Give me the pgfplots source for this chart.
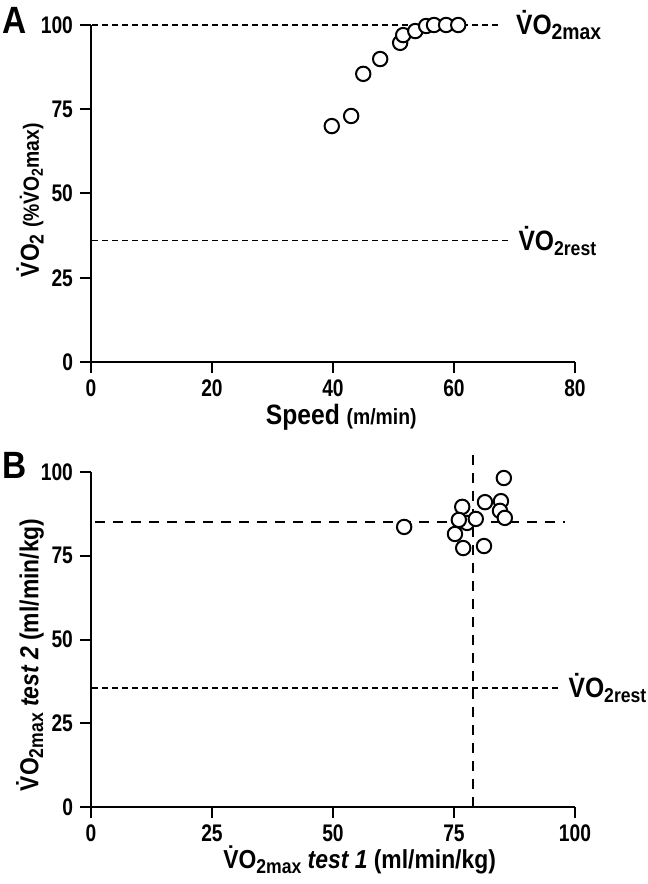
\documentclass[border=0pt]{standalone}
\usepackage{fontspec}
\setmainfont{Liberation Sans}[FakeStretch=0.88]
\newfontfamily\tickfont{Liberation Sans}[FakeStretch=0.8]
\usepackage{pgfplots}
\pgfplotsset{compat=1.18}
\usetikzlibrary{calc}
\newcommand{\VO}{\.{V}O}
\newcommand{\sub}[2][10]{\raisebox{-0.35ex}{\fontsize{#1}{#1}\selectfont #2}}
\begin{document}
\begin{tikzpicture}[font=\bfseries]
\useasboundingbox (-45.5pt,-38.5pt) rectangle (278.5pt,403.5pt);
\pgfplotsset{
  myaxis/.style={
    scale only axis, width=242pt,
    axis lines=left, axis line style={line width=1pt, -},
    tick align=outside, major tick length=5.5pt,
    tick style={line width=1pt, black},
    xmin=0, ymin=0, ymax=100,
    ytick={0,25,50,75,100},
    tick label style={font=\tickfont\fontsize{12}{14}\selectfont\bfseries},
    /pgf/number format/assume math mode=true,
    clip=false,
  },
  pts/.style={only marks, mark=*, mark size=3.6pt, mark options={line width=1pt, fill=white, draw=black}},
  dline/.style={black, line width=0.6pt, dash pattern=on 3pt off 2pt, no marks},
  dthick/.style={black, line width=1pt, dash pattern=on 5pt off 4pt, no marks},
}
% Panel A
\begin{axis}[myaxis, at={(0pt,222.5pt)}, height=168.5pt, xmax=80, xtick={0,20,40,60,80}]
\addplot[dline] coordinates {(0.2,100) (67.6,100)};
\addplot[dline] coordinates {(0.2,36) (68.9,36)};
\addplot[pts] coordinates {
(39.8,70.0) (43.0,73.0) (45.0,85.5) (47.8,89.9) (51.1,94.7) (51.6,97.0)
(53.6,98.2) (55.4,99.7) (56.7,100) (58.7,100) (60.7,100)};
\node[anchor=west, inner sep=0pt] at (axis cs:70.2,100) {\fontsize{14}{16}\selectfont\VO\sub[11]{2max}};
\node[anchor=west, inner sep=0pt] at (axis cs:70.6,36) {\fontsize{14}{16}\selectfont\VO\sub[10]{2rest}};
\node at ($(rel axis cs:0.517,0)+(0,-27.5pt)$) {\fontsize{14}{16}\selectfont Speed \fontsize{11}{13}\selectfont(m/min)};
\node[rotate=90] at ($(rel axis cs:0,0.48)+(-30.5pt,0)$) {\fontsize{13}{15}\selectfont\VO\sub[10]{2} \fontsize{11}{13}\selectfont(\%\VO\sub[8]{2}max)};
\node at ($(rel axis cs:0,1.015)+(-38pt,0)$) {\fontsize{19}{20}\selectfont A};
\end{axis}
% Panel B
\begin{axis}[myaxis, at={(0pt,0pt)}, height=167.5pt, xmax=100, xtick={0,25,50,75,100}]
\addplot[dline] coordinates {(0.2,35.5) (97.3,35.5)};
\addplot[dthick] coordinates {(0.8,85) (98,85)};
\addplot[dthick] coordinates {(79,0) (79,105.7)};
\addplot[pts] coordinates {
(85.3,98.2) (81.4,91.0) (84.7,91.3) (76.7,89.6) (84.5,88.4) (85.5,86.3)
(77.7,84.8) (76.0,85.7) (79.5,86.0) (64.7,83.6) (75.2,81.5) (76.9,77.3) (81.2,77.9)};
\node[anchor=west, inner sep=0pt] at (axis cs:98.6,35.5) {\fontsize{14}{16}\selectfont\VO\sub[10]{2rest}};
\node at ($(rel axis cs:0.555,0)+(0,-26.5pt)$) {\fontsize{13}{15}\selectfont\VO\sub[10]{2max} \textit{test 1} (ml/min/kg)};
\node[rotate=90] at ($(rel axis cs:0,0.454)+(-30.5pt,0)$) {\fontsize{13}{15}\selectfont\VO\sub[10]{2max} \textit{test 2} (ml/min/kg)};
\node at ($(rel axis cs:0,1.02)+(-38pt,0)$) {\fontsize{19}{20}\selectfont B};
\end{axis}
\end{tikzpicture}
\end{document}
